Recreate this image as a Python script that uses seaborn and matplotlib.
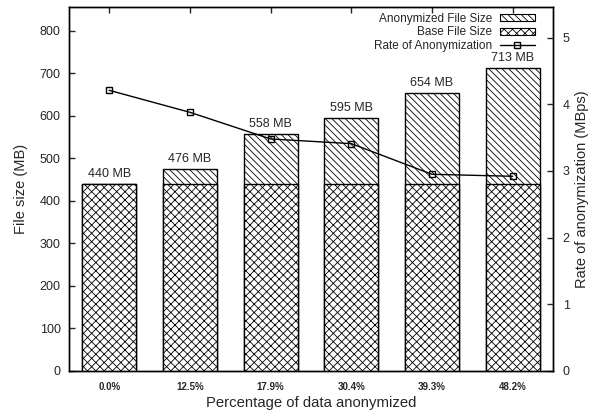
import matplotlib
matplotlib.use("Agg")
import matplotlib.pyplot as plt
import seaborn as sns
import pandas as pd
from matplotlib.patches import Patch
from matplotlib.lines import Line2D

categories = ["0.0%", "12.5%", "17.9%", "30.4%", "39.3%", "48.2%"]
total_size = [440, 476, 558, 595, 654, 713]
base_size = [440, 440, 440, 440, 440, 440]
rate = [4.21, 3.88, 3.48, 3.41, 2.95, 2.92]
bar_labels = ["440 MB", "476 MB", "558 MB", "595 MB", "654 MB", "713 MB"]

df = pd.DataFrame({"pct": categories, "total": total_size, "base": base_size, "rate": rate})

sns.set_style("ticks")
plt.rcParams["font.family"] = ["Liberation Sans", "DejaVu Sans"]
plt.rcParams["hatch.linewidth"] = 0.6
plt.rcParams["hatch.color"] = "black"

HATCH_ANON = "\\" * 5
HATCH_BASE = "xxxx"

fig = plt.figure(figsize=(5.94, 4.13), dpi=100)
ax = fig.add_axes([0.116, 0.102, 0.815, 0.881])

sns.barplot(data=df, x="pct", y="total", color="white", edgecolor="black",
            linewidth=1.0, hatch=HATCH_ANON, width=0.67, ax=ax, saturation=1, zorder=2)
sns.barplot(data=df, x="pct", y="base", color="white", edgecolor="black",
            linewidth=1.0, hatch=HATCH_BASE, width=0.67, ax=ax, saturation=1, zorder=3)

for i, lab in enumerate(bar_labels):
    ax.text(i, total_size[i] + 9, lab, ha="center", va="bottom", fontsize=9)

ax.set_xlim(-0.5, 5.5)
ax.set_ylim(0, 856)
ax.set_yticks(range(0, 900, 100))
ax.set_xlabel("Percentage of data anonymized", fontsize=10.7, labelpad=3)
ax.set_ylabel("File size (MB)", fontsize=10.5, labelpad=8)
ax.tick_params(axis="y", direction="in", length=4, width=1, labelsize=9, pad=6)
ax.tick_params(axis="x", direction="in", length=4, width=1, labelsize=7,
               bottom=False, top=True, pad=8)
for t in ax.get_xticklabels():
    t.set_fontweight("bold")
for s in ax.spines.values():
    s.set_visible(True)
    s.set_linewidth(1.0)
    s.set_color("black")

ax2 = ax.twinx()
sns.pointplot(data=df, x="pct", y="rate", color="black", markers="s",
              linestyles="-", markersize=4.5, linewidth=1.0,
              markerfacecolor="none", markeredgewidth=1.0, ax=ax2, errorbar=None)
ax2.set_xlim(-0.5, 5.5)
ax2.set_ylim(0, 5.46)
ax2.set_yticks(range(0, 6))
ax2.set_ylabel("Rate of anonymization (MBps)", fontsize=10.5, labelpad=4)
ax2.tick_params(axis="y", direction="in", length=4, width=1, labelsize=9, pad=7)
for s in ax2.spines.values():
    s.set_visible(True)
    s.set_linewidth(1.0)
    s.set_color("black")

handles = [
    Patch(facecolor="white", edgecolor="black", hatch=HATCH_ANON, linewidth=0.8),
    Patch(facecolor="white", edgecolor="black", hatch=HATCH_BASE, linewidth=0.8),
    Line2D([], [], color="black", marker="s", markersize=4.5, markerfacecolor="none", linewidth=1.0),
]
labels = ["Anonymized File Size", "Base File Size", "Rate of Anonymization"]
ax2.legend(handles, labels, loc="upper right", frameon=False, markerfirst=False,
           fontsize=8.5, handlelength=3.0, handleheight=0.55, labelspacing=0.12,
           borderaxespad=0.3, handletextpad=0.65, borderpad=0.2,
           bbox_to_anchor=(0.975, 1.0))

fig.savefig("out.png", dpi=100)
